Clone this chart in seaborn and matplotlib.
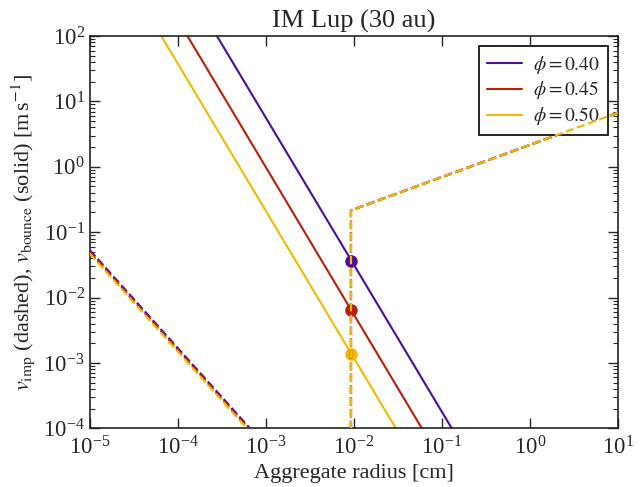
import matplotlib
matplotlib.use("Agg")
import matplotlib.pyplot as plt
import numpy as np
import pandas as pd
import seaborn as sns

# ---- data ----
phi_labels = ["0.40", "0.45", "0.50"]
colors = ["#4b0c9e", "#b91f08", "#f2b900"]

# bouncing velocity (solid): endpoints of each straight line in log-log space
bounce_x = [[2.79e-4, 0.130], [1.29e-4, 0.0594], [6.5e-5, 0.0301]]
bounce_y = [[100.0, 1e-4], [100.0, 1e-4], [100.0, 1e-4]]

# impact velocity (dashed): brownian branch, jump at the transition size, then turbulent branch
imp_x = [1e-5, 9.3e-3, 9.3e-3, 10.0]
imp_y = [[0.053, 1.9e-6, 0.216, 6.7],
         [0.050, 1.8e-6, 0.216, 6.7],
         [0.047, 1.7e-6, 0.216, 6.7]]

# transition points marked on the bounce curves
mark_x = [9.3e-3, 9.3e-3, 9.3e-3]
mark_y = [0.036, 0.0064, 0.00135]

sns.set_style("ticks")
plt.rcParams["font.family"] = ["Liberation Serif", "DejaVu Serif"]
plt.rcParams["mathtext.fontset"] = "stix"
plt.rcParams["xtick.direction"] = "in"
plt.rcParams["ytick.direction"] = "in"

fig = plt.figure(figsize=(6.41, 4.87), dpi=100)
ax = fig.add_axes([0.140, 0.1205, 0.8237, 0.8055])

for i, lab in enumerate(phi_labels):
    df = pd.DataFrame({"a": bounce_x[i], "v": bounce_y[i]})
    sns.lineplot(data=df, x="a", y="v", ax=ax, color=colors[i], lw=1.5,
                 estimator=None, sort=False, label=r"$\phi = %s$" % lab, zorder=2)
    ax.plot(mark_x[i], mark_y[i], "o", color=colors[i], ms=8, zorder=3)

for i, lab in enumerate(phi_labels):
    df = pd.DataFrame({"a": imp_x, "v": imp_y[i]})
    sns.lineplot(data=df, x="a", y="v", ax=ax, color=colors[i], lw=1.6,
                 linestyle="--", estimator=None, sort=False, zorder=4 + i)

ax.set_xscale("log")
ax.set_yscale("log")
ax.set_xlim(1e-5, 10)
ax.set_ylim(1e-4, 100)
ax.xaxis.set_major_locator(matplotlib.ticker.LogLocator(base=10, numticks=20))
ax.yaxis.set_major_locator(matplotlib.ticker.LogLocator(base=10, numticks=20))
ax.xaxis.set_minor_locator(matplotlib.ticker.NullLocator())

ax.set_xlabel("Aggregate radius [cm]", fontsize=16, labelpad=3)
ax.set_ylabel(r"$v_{\rm imp}$ (dashed), $v_{\rm bounce}$ (solid) [m$\,$s$^{-1}$]",
              fontsize=16, labelpad=4)
ax.set_title("IM Lup (30 au)", fontsize=19, pad=6)

ax.tick_params(which="both", top=True, right=True, labelsize=16.5)
ax.tick_params(axis="x", pad=6)
ax.tick_params(which="major", length=7, width=1)
ax.tick_params(which="minor", length=3.5, width=0.8)
for s in ax.spines.values():
    s.set_linewidth(1.2)
    s.set_color("#222222")

leg = ax.legend(loc="upper right", fontsize=14, fancybox=False, framealpha=1,
                edgecolor="black", handlelength=1.8, labelspacing=0.2,
                handletextpad=0.6, borderaxespad=0.5)
leg.get_frame().set_linewidth(1.2)

fig.savefig("out.png", dpi=100)
plt.close(fig)
